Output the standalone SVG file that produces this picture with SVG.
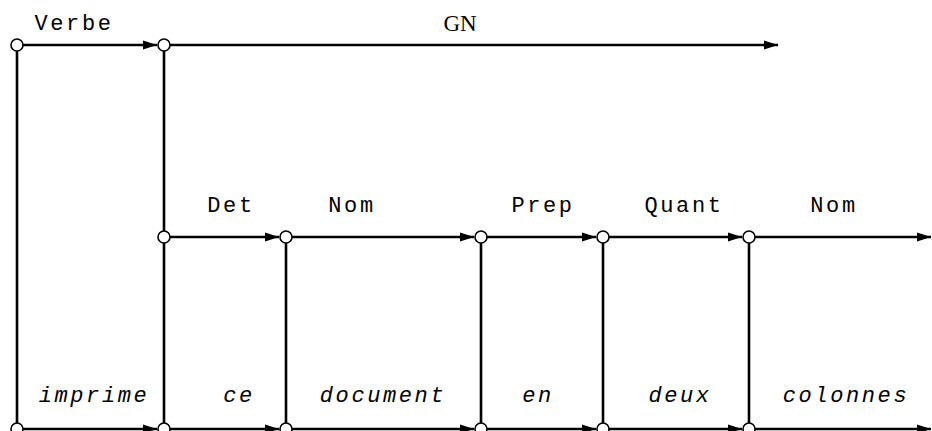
<svg xmlns="http://www.w3.org/2000/svg" width="932" height="431" viewBox="0 0 932 431">
<style>
.e{stroke:#000;stroke-width:2.6;fill:none}
.n{fill:#fff;stroke:#000;stroke-width:1.6}
.t{font-family:"Liberation Mono","Courier New",monospace;font-size:22px;letter-spacing:2.6px;text-anchor:middle;fill:#000}
.i{font-style:italic}
.s{font-family:"Liberation Serif","Times New Roman",serif;font-size:23px;text-anchor:middle;fill:#000}
</style>
<defs>
<marker id="a" markerWidth="15" markerHeight="10" refX="14" refY="5" orient="auto" markerUnits="userSpaceOnUse">
<path d="M0,0.5 L14,5 L0,9.5 Z" fill="#000"/>
</marker>
</defs>
<g id="connectors">
<line class="e" x1="17" y1="45" x2="17" y2="429"/>
<line class="e" x1="164" y1="45" x2="164" y2="429"/>
<line class="e" x1="286" y1="237" x2="286" y2="429"/>
<line class="e" x1="481" y1="237" x2="481" y2="429"/>
<line class="e" x1="603" y1="237" x2="603" y2="429"/>
<line class="e" x1="749" y1="237" x2="749" y2="429"/>
<line class="e" x1="23" y1="45" x2="157" y2="45" marker-end="url(#a)"/>
<line class="e" x1="170" y1="45" x2="778" y2="45" marker-end="url(#a)"/>
<line class="e" x1="170" y1="237" x2="279" y2="237" marker-end="url(#a)"/>
<line class="e" x1="292" y1="237" x2="474" y2="237" marker-end="url(#a)"/>
<line class="e" x1="487" y1="237" x2="596" y2="237" marker-end="url(#a)"/>
<line class="e" x1="609" y1="237" x2="742" y2="237" marker-end="url(#a)"/>
<line class="e" x1="755" y1="237" x2="931" y2="237" marker-end="url(#a)"/>
<line class="e" x1="23" y1="429" x2="157" y2="429" marker-end="url(#a)"/>
<line class="e" x1="170" y1="429" x2="279" y2="429" marker-end="url(#a)"/>
<line class="e" x1="292" y1="429" x2="474" y2="429" marker-end="url(#a)"/>
<line class="e" x1="487" y1="429" x2="596" y2="429" marker-end="url(#a)"/>
<line class="e" x1="609" y1="429" x2="742" y2="429" marker-end="url(#a)"/>
<line class="e" x1="755" y1="429" x2="931" y2="429" marker-end="url(#a)"/>
</g>
<g id="n-top1"><circle class="n" cx="17" cy="45" r="6"/></g>
<g id="n-top2"><circle class="n" cx="164" cy="45" r="6"/></g>
<g id="n-mid1"><circle class="n" cx="164" cy="237" r="6"/></g>
<g id="n-mid2"><circle class="n" cx="286" cy="237" r="6"/></g>
<g id="n-mid3"><circle class="n" cx="481" cy="237" r="6"/></g>
<g id="n-mid4"><circle class="n" cx="603" cy="237" r="6"/></g>
<g id="n-mid5"><circle class="n" cx="749" cy="237" r="6"/></g>
<g id="n-bot1"><circle class="n" cx="17" cy="429" r="6"/></g>
<g id="n-bot2"><circle class="n" cx="164" cy="429" r="6"/></g>
<g id="n-bot3"><circle class="n" cx="286" cy="429" r="6"/></g>
<g id="n-bot4"><circle class="n" cx="481" cy="429" r="6"/></g>
<g id="n-bot5"><circle class="n" cx="603" cy="429" r="6"/></g>
<g id="n-bot6"><circle class="n" cx="749" cy="429" r="6"/></g>
<g id="labels">
<text class="t" x="74" y="30">Verbe</text>
<text class="s" x="460" y="31">GN</text>
<text class="t" x="231" y="212">Det</text>
<text class="t" x="352" y="212">Nom</text>
<text class="t" x="543" y="212">Prep</text>
<text class="t" x="684" y="212">Quant</text>
<text class="t" x="834" y="212">Nom</text>
<text class="t i" x="94" y="402">imprime</text>
<text class="t i" x="239" y="402">ce</text>
<text class="t i" x="383" y="402">document</text>
<text class="t i" x="538" y="402">en</text>
<text class="t i" x="680" y="402">deux</text>
<text class="t i" x="846" y="402">colonnes</text>
</g>
</svg>
